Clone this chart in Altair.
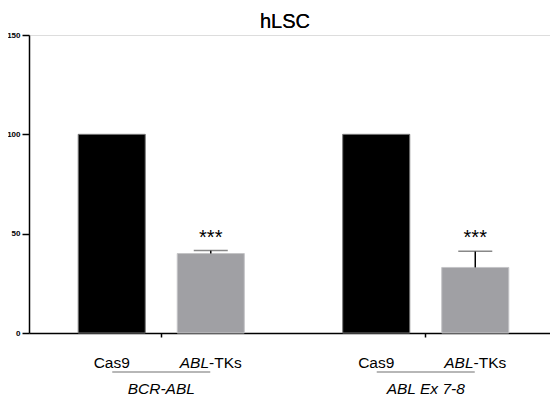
import altair as alt
import pandas as pd

groups = ["BCR-ABL", "BCR-ABL", "ABL Ex 7-8", "ABL Ex 7-8"]
conditions = ["Cas9", "ABL-TKs", "Cas9", "ABL-TKs"]
means = [100, 40, 100, 33]
errors = [0, 1.5, 0, 8.2]
stars = ["", "***", "", "***"]
y_ticks = [0, 50, 100, 150]
group_order = ["BCR-ABL", "ABL Ex 7-8"]
cond_order = ["Cas9", "ABL-TKs"]
cond_italic = ["", "ABL"]
cond_plain = ["Cas9", "-TKs"]

df = pd.DataFrame({
    "group": groups,
    "cond": conditions,
    "mean": means,
    "err": errors,
    "stars": stars,
})
df["top"] = df["mean"] + df["err"]
df["ital"] = [cond_italic[cond_order.index(c)] for c in conditions]
df["plain"] = [cond_plain[cond_order.index(c)] for c in conditions]
gdf = pd.DataFrame({"group": group_order})

FONT = "Liberation Sans"

x = alt.X("group:N", sort=group_order,
          scale=alt.Scale(domain=group_order, paddingInner=0, paddingOuter=0, range=[0, 529]),
          axis=alt.Axis(title=None, labels=False,
                        tickSize=4, tickWidth=1.5, tickColor="black",
                        domainColor="black", domainWidth=1.5))
xo = alt.XOffset("cond:N", sort=cond_order,
                 scale=alt.Scale(domain=cond_order, paddingInner=0.323, paddingOuter=0.497))
yscale = alt.Scale(domain=[0, 150], nice=False)
y = alt.Y("mean:Q", scale=yscale,
          axis=alt.Axis(title=None, values=y_ticks, labelFontSize=8, labelFontWeight="bold",
                        labelFont=FONT, labelColor="black", tickSize=7, labelPadding=2,
                        tickWidth=1.5, tickColor="black", domainColor="black",
                        domainWidth=1.5, grid=False))

base = alt.Chart(df)

bars = base.mark_bar(strokeWidth=1).encode(
    x=x, xOffset=xo, y=y,
    color=alt.Color("cond:N", sort=cond_order,
                    scale=alt.Scale(domain=cond_order, range=["#000000", "#a0a0a4"]),
                    legend=None),
    stroke=alt.Stroke("cond:N", sort=cond_order,
                      scale=alt.Scale(domain=cond_order, range=["#777777", "#c4c4c6"]),
                      legend=None),
)

errdf = base.transform_filter("datum.err > 0")
stem = errdf.mark_rule(color="black", strokeWidth=1.5).encode(
    x=x, xOffset=xo, y=alt.Y("mean:Q", scale=yscale), y2="top:Q")
cap = errdf.mark_tick(orient="horizontal", size=34, thickness=1.5, color="#555555").encode(
    x=x, xOffset=xo, y=alt.Y("top:Q", scale=yscale))
star = errdf.mark_text(fontSize=20, font=FONT, fontWeight="normal", dy=-7,
                       baseline="alphabetic", color="black").encode(
    x=x, xOffset=xo, y=alt.Y("top:Q", scale=yscale), text="stars:N")

lab_plain_cas = base.transform_filter("datum.ital == ''").mark_text(
    fontSize=15.5, font=FONT, fontWeight="normal", baseline="alphabetic", align="center",
    color="black").encode(
    x=x, xOffset=xo, y=alt.value(332.7), text="plain:N")
lab_ital = base.transform_filter("datum.ital != ''").mark_text(
    fontSize=15.5, font=FONT, fontStyle="italic", fontWeight="normal", baseline="alphabetic",
    align="right", dx=-1.7, color="black").encode(
    x=x, xOffset=xo, y=alt.value(332.7), text="ital:N")
lab_tail = base.transform_filter("datum.ital != ''").mark_text(
    fontSize=15.5, font=FONT, fontWeight="normal", baseline="alphabetic", align="left",
    dx=-1.7, color="black").encode(
    x=x, xOffset=xo, y=alt.value(332.7), text="plain:N")

gbase = alt.Chart(gdf)
underline = gbase.mark_tick(orient="horizontal", size=98, thickness=1, color="#333333").encode(
    x=x, y=alt.value(337))
glabel = gbase.mark_text(fontSize=15.5, font=FONT, fontStyle="italic", fontWeight="normal",
                         baseline="alphabetic", align="center", color="black").encode(
    x=x, y=alt.value(358.5), text="group:N")

title = gbase.mark_text(text="hLSC", fontSize=20, font=FONT, fontWeight="normal",
                        baseline="alphabetic", align="center", color="black").encode(
    x=alt.value(256), y=alt.value(-7))

chart = alt.layer(bars, stem, cap, star, lab_plain_cas, lab_ital, lab_tail,
                  underline, glabel, title).properties(
    width=521, height=298,
    autosize=alt.AutoSizeParams(type="none"),
    padding={"left": 21, "top": 27, "right": 0, "bottom": 64},
).configure_view(stroke=None).configure(background="white")

chart.save("out.html", embed_options={"renderer": "svg", "actions": False})
